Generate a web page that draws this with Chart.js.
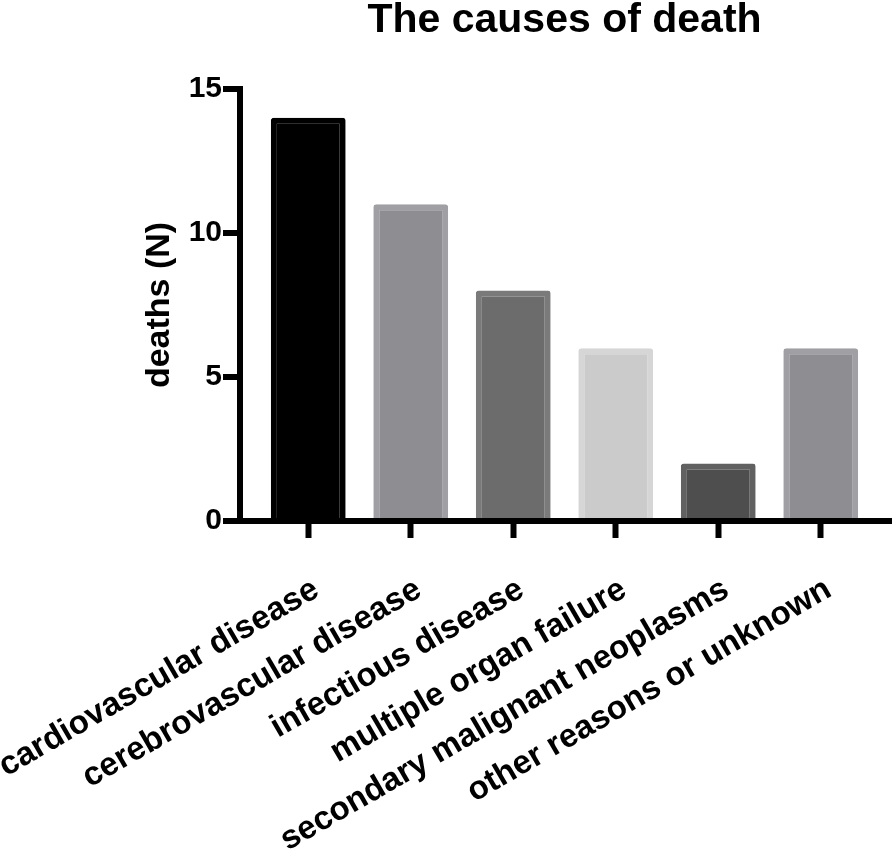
<!DOCTYPE html>
<html>
<head>
<meta charset="utf-8">
<script src="https://cdn.jsdelivr.net/npm/chart.js@4.4.1/dist/chart.umd.min.js"></script>
<style>
  html, body { margin: 0; padding: 0; background: #fff; }
  canvas { display: block; }
</style>
</head>
<body>
<canvas id="chart" width="892" height="854"></canvas>
<script>
const categories = [
  "cardiovascular disease",
  "cerebrovascular disease",
  "infectious disease",
  "multiple organ failure",
  "secondary malignant neoplasms",
  "other reasons or unknown"
];
const deaths = [14, 11, 8, 6, 2, 6];
const yTickValues = [0, 5, 10, 15];

// fill / edge colour per bar
const fills = ["#000000", "#8e8d92", "#6c6c6c", "#cbcbcb", "#4e4e4e", "#8e8d92"];
const edges = ["#000000", "#a09fa4", "#7a7a7a", "#d6d6d6", "#616161", "#a09fa4"];

const FONT = "'Liberation Sans', Arial, Helvetica, sans-serif";

// heavy axis lines + y ticks, drawn like the prism-style original
const axesPlugin = {
  id: "axes",
  afterDatasetsDraw(chart) {
    const ctx = chart.ctx;
    const y = chart.scales.y;
    const axisX = 240;
    const zeroY = y.getPixelForValue(0);
    ctx.save();
    ctx.strokeStyle = "#000";
    ctx.lineWidth = 6;
    ctx.lineCap = "butt";
    ctx.beginPath();
    ctx.moveTo(axisX, y.getPixelForValue(y.max) - 3);
    ctx.lineTo(axisX, zeroY + 3);
    ctx.stroke();
    y.ticks.forEach(t => {
      const py = y.getPixelForValue(t.value);
      ctx.beginPath();
      ctx.moveTo(axisX - 17, py);
      ctx.lineTo(axisX, py);
      ctx.stroke();
    });
    ctx.beginPath();
    ctx.moveTo(axisX - 3, zeroY);
    ctx.lineTo(chart.width, zeroY);
    ctx.stroke();
    ctx.restore();
  }
};

new Chart(document.getElementById("chart"), {
  type: "bar",
  data: {
    labels: categories,
    datasets: [{
      label: "deaths",
      data: deaths,
      backgroundColor: fills,
      borderColor: edges,
      borderWidth: 6,
      borderRadius: 3,
      borderSkipped: "start",
      barPercentage: 0.73,
      categoryPercentage: 1.0
    }]
  },
  options: {
    responsive: false,
    animation: false,
    layout: { padding: { left: 0, right: 20, top: 0, bottom: 0 } },
    plugins: {
      legend: { display: false },
      tooltip: { enabled: false },
      title: {
        display: true,
        text: "The causes of death",
        color: "#000",
        fullSize: false,
        font: { family: FONT, size: 41, weight: "bold", lineHeight: 1 },
        padding: { top: 0, bottom: 48 }
      }
    },
    scales: {
      x: {
        offset: true,
        border: { display: false },
        grid: {
          display: true,
          offset: false,
          drawOnChartArea: false,
          drawTicks: true,
          tickLength: 17,
          tickWidth: 6,
          tickColor: "#000"
        },
        ticks: {
          autoSkip: false,
          minRotation: 30,
          maxRotation: 30,
          padding: 32,
          labelOffset: 8,
          color: "#000",
          font: { family: FONT, size: 33, weight: "bold" }
        },
        afterFit(scale) {
          scale.height = 333;
          scale.paddingLeft = 0;
          scale.paddingRight = 0;
        }
      },
      y: {
        min: 0,
        max: 15,
        border: { display: false },
        grid: { display: false, drawTicks: false },
        afterBuildTicks(scale) {
          scale.ticks = yTickValues.map(v => ({ value: v }));
        },
        ticks: {
          padding: 35,
          color: "#000",
          font: { family: FONT, size: 30, weight: "bold" }
        },
        title: {
          display: true,
          text: "deaths (N)",
          color: "#000",
          font: { family: FONT, size: 34, weight: "bold" },
          padding: { top: 139, bottom: 0 }
        },
        afterFit(scale) {
          scale.width = 257;
          scale.paddingTop = 0;
          scale.paddingBottom = 0;
        }
      }
    }
  },
  plugins: [axesPlugin]
});
</script>
</body>
</html>
